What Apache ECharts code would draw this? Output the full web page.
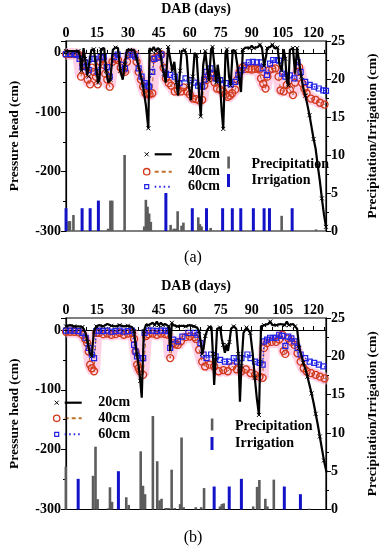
<!DOCTYPE html>
<html><head><meta charset="utf-8">
<script src="https://cdn.jsdelivr.net/npm/echarts@6.0.0/dist/echarts.min.js"></script>
<style>html,body{margin:0;padding:0;background:#fff}#c{width:388px;height:550px}</style>
</head><body><div id="c"></div>
<script>
// ---------- DATA (DAB day, value) ----------
// Panel (a): pressure head (cm)
const a20 = [[0,3],[3,3],[6,3],[6.8,-5],[7.5,-30],[8.5,8],[9.3,-10],[10.3,-38],[11,-40],[12.3,5],[13.5,6],[14.5,-20],[15.5,-50],[16.2,-45],[17,6],[18.5,8],[19.5,-30],[20.5,-50],[21.5,-45],[22.7,5],[24,9],[25.2,8],[26.3,-30],[27.5,-45],[28.5,-20],[29.5,5],[31,5],[33,5],[34.3,-10],[35.8,-32],[37.3,-55],[38.7,-88],[39.9,-127],[40.5,8],[41.5,4],[42.5,10],[43.5,3],[44.5,8],[45.5,5],[46.5,-20],[47.5,-35],[48.3,-50],[49.5,10],[50.5,-10],[51.5,-30],[52.5,-15],[53.5,-50],[54.3,-72],[55.3,-30],[56,3],[57.5,5],[58.5,-5],[59.5,-55],[60.5,-80],[61.5,-40],[62.3,0],[63.3,-5],[64.5,-70],[65.3,-107],[66.5,-20],[67.5,3],[68.5,-30],[69.3,-46],[70.3,5],[71,10],[72,-25],[72.8,-50],[73.5,-20],[74.5,-45],[75.5,-100],[76.2,-128],[77.3,0],[78,6],[79,-40],[79.8,-55],[80.8,5],[82,3],[83,-20],[84,-45],[84.8,-66],[85.7,5],[87,9],[89,8],[90,12],[91,8],[93,10],[94,14],[95,8],[96,-22],[97,-5],[97.5,8],[99,10],[100,14],[101,8],[102.5,9],[103.5,-20],[104.5,-30],[105.5,6],[106.3,-10],[107,-48],[107.8,-55],[108.5,5],[110,8],[111,-35],[112,8],[113,-15],[114,-40],[115,-60],[116,-72],[117,-88],[118,-105],[119,-125],[120,-145],[121,-162],[122,-190],[123,-215],[124,-245],[125,-272],[126,-293]];
const a40 = [[0,-2],[2,-2],[4,-2],[6,-3],[7.3,-40],[8.3,-20],[9.5,-30],[10.5,-45],[11.7,-53],[12.6,-25],[13.5,-32],[14.5,-40],[15.4,-53],[16.5,-15],[17.5,-10],[18.3,-20],[19,-35],[20,-45],[21.2,-57],[22.5,-15],[24,-10],[25.2,-12],[26.5,-25],[27.6,-30],[28.6,-32],[29.6,-15],[30.8,-2],[32,-1],[33,-2],[34.2,-15],[35.2,-32],[36.3,-45],[37.4,-57],[38.5,-68],[39.5,-70],[40.5,-70],[41.8,-68],[42.5,-10],[43.6,-8],[44.7,-6],[46.2,-2],[47.3,-25],[48.4,-43],[49.8,-51],[51,-55],[52.7,-65],[54.2,-63],[55.7,-65],[57,-58],[58.6,-65],[60,-70],[61.5,-77],[63,-78],[64.5,-80],[66,-79],[67,-55],[68,-46],[69,-40],[70,-35],[71,-38],[72,-50],[73.2,-60],[74.7,-62],[76.2,-65],[77.3,-70],[78.4,-74],[79.5,-72],[80.5,-68],[82,-62],[83,-45],[84.2,-32],[85.7,-24],[87,-27],[88.5,-27],[90,-28],[91.5,-27],[93,-26],[93.8,-28],[94.5,-43],[95.6,-52],[96.7,-60],[97.6,-40],[98.5,-29],[100,-27],[101.5,-26],[103,-40],[104,-63],[105.5,-65],[107,-54],[108.5,-62],[110,-71],[111,-50],[112.2,-32],[113,-24],[114.4,-51],[115.5,-60],[116.6,-68],[118.7,-77],[120.9,-79],[123.1,-84],[125.3,-87]];
const a60 = [[0,-2],[2,-2],[4,-2],[5,-3],[6.6,-10],[8,-24],[9.3,-16],[11,-29],[12.5,-10],[13.8,-10],[15.4,-32],[16.8,-7],[18.3,-7],[19.8,-24],[21.2,-40],[23.4,-7],[25,-3],[27.1,-20],[28.6,-26],[30,-4],[32.2,-3],[33.5,-6],[35.2,-26],[36.6,-40],[38.1,-51],[39.5,-55],[40.3,-57],[41.8,-32],[42.8,-10],[44.7,-8],[46.2,-3],[48.4,-35],[50.5,-37],[52.7,-40],[55,-51],[57.9,-43],[60.1,-46],[62.3,-50],[64,-55],[66,-57],[67,-45],[68.1,-32],[70,-26],[71.2,-35],[72.5,-43],[74.7,-46],[77.6,-51],[79.8,-53],[82,-49],[83.5,-37],[85,-29],[86.4,-21],[88.6,-16],[90.5,-15],[92.5,-16],[94.5,-16],[95.3,-26],[97.4,-37],[98.9,-18],[100.4,-12],[102,-12],[103.3,-13],[104.8,-35],[106.3,-40],[108.5,-38],[110.7,-43],[112.2,-15],[113.7,-32],[115.9,-49],[118.1,-54],[120.3,-57],[122.5,-60],[124.7,-63],[126,-64]];
// Panel (a): precipitation / irrigation (cm)
const aPrecip = [[1.3,1.3],[2,1.3],[3.7,2.1],[20.5,0.3],[21.6,4],[22.5,4],[28.5,10],[38,0.6],[38.8,4.1],[39.6,3.2],[40.4,2.3],[41.2,1.2],[50.8,0.8],[52.3,0.3],[53.3,0.3],[54.2,2.6],[56.1,0.7],[57,1.1],[64.2,1.8],[65,0.9],[65.8,0.6],[70.2,0.4],[104.6,2],[121.3,0.2]];
const aIrrig = [[0,3],[7.8,3],[11.7,3],[15.7,4],[48.4,5],[61.2,3],[68.1,3],[75.9,3],[80.6,3],[84.7,3],[90.8,3],[96,3],[98.6,3],[109.6,3]];

// Panel (b): pressure head (cm)
const b20 = [[0,6],[2,8],[4,6],[6,6],[8,5],[9.5,-5],[10.5,-20],[11.5,-38],[12.5,-44],[13.5,-2],[14.7,6],[16,8],[18,6],[20,10],[22,7],[24,6],[26,8],[28,6],[30,7],[32,5],[33,-2],[33.7,-25],[34.4,-41],[35.2,-60],[36,-85],[36.7,-113],[37.7,-2],[38.8,9],[40,8],[42,12],[43,8],[44,14],[45,8],[46,12],[47,8],[48,10],[49.8,6],[50.5,-35],[51.3,12],[52,8],[54,6],[56,7],[58,6],[60,8],[62,6],[63.5,4],[64.5,-2],[65.3,-20],[66,-40],[66.7,-30],[67.5,-10],[68.5,0],[69.5,5],[70.5,5],[71.2,-40],[71.8,-92],[72.5,-50],[73.2,2],[74.7,4],[75.5,-15],[76.2,-25],[77,-38],[77.8,-25],[78.5,-35],[79.2,-20],[80,2],[81.3,6],[82.5,2],[83.5,-40],[84.3,-120],[85,-60],[86,-5],[87.5,4],[88.3,6],[89.3,-5],[90.5,-40],[91.5,-80],[92.5,-115],[93.5,-142],[94.5,6],[96,8],[98,10],[99,14],[100,8],[102,8],[104,10],[106,8],[107,14],[108,8],[110,10],[111,6],[112,2],[113,-30],[114,-42],[115,-55],[116,-65],[117,-78],[118,-92],[119,-106],[120,-122],[121,-140],[122,-158],[123,-178],[124,-198],[125,-218],[126.3,-238]];
const b40 = [[0,-3],[2,-3],[4,-3],[6,-4],[8,-8],[9.3,-15],[10.3,-22],[11,-36],[11.7,-58],[12.5,-64],[13.6,-69],[14.7,-5],[16,-5],[18,-7],[20,-6],[22,-8],[24,-7],[26,-5],[28,-8],[30,-6],[32,-5],[33,-15],[33.7,-36],[34.5,-58],[35.2,-64],[35.9,-69],[37.4,-75],[38.8,-10],[40,-7],[42,-6],[44,-8],[46,-6],[48,-7],[49.5,-8],[50.5,-47],[52,-22],[53,-24],[54.2,-25],[55.7,-19],[57.9,-12],[60,-11],[62.3,-12],[63,-15],[64.5,-33],[66,-53],[67.4,-61],[69.6,-58],[71.8,-61],[74,-69],[76.2,-67],[78.4,-69],[80.6,-61],[82.8,-66],[85,-69],[87.2,-66],[89.4,-72],[91.6,-75],[93.8,-78],[95.3,-80],[96,-30],[97.4,-22],[99.6,-20],[101.8,-20],[103.3,-16],[104.8,-8],[105.5,-35],[106.3,-40],[107.7,-14],[109.2,-20],[110.7,-25],[112.2,-39],[113.7,-53],[115.2,-64],[116.6,-69],[118.7,-72],[121,-75],[123.1,-78],[125.3,-81],[126.5,-81]];
const b60 = [[0,-1],[2,-1],[4,-1],[6,-2],[8,-5],[9.5,-13],[11,-30],[12.5,-41],[13.6,-47],[14.7,-2],[16,-1],[18,-2],[20,-1],[22,-3],[24,-2],[26,-1],[28,-3],[30,-2],[32,-1],[33,-25],[33.7,-36],[34.4,-44],[36,-47],[37.4,-47],[38.1,-5],[40,-1],[42,-1],[44,-2],[46,-1],[48,-1],[49.5,-2],[50.5,-30],[52,-16],[54.2,-19],[56.4,-11],[59.3,-5],[62.3,-5],[63.7,-8],[65.2,-22],[66.7,-41],[68.1,-47],[70.3,-41],[72.5,-44],[74.7,-50],[77,-53],[79.1,-53],[81.3,-47],[82.8,-53],[85,-47],[87.9,-41],[89.4,-47],[91.6,-53],[93.8,-55],[95.3,-58],[96,-19],[97.4,-16],[98.9,-13],[100.5,-13],[101.8,-13],[103.3,-8],[104.8,-10],[106.3,-27],[107.7,-11],[109.2,-14],[110.7,-19],[112.2,-30],[113.7,-41],[115.9,-47],[118.1,-53],[120.3,-55],[122.5,-58],[124.7,-61],[126.5,-63]];
// Panel (b): precipitation / irrigation (cm)
const bPrecip = [[0,5.6],[13.2,4.4],[14.4,8.2],[15.4,1.35],[20.5,0.15],[21.4,2.9],[22.4,1],[29.3,1.6],[30.5,0.6],[36.3,7.6],[37.4,3.1],[38.4,2],[42.2,12.2],[44.3,6.3],[45.4,1.2],[46.4,1.4],[48.4,0.2],[49.1,0.2],[49.8,0.2],[51.3,5.2],[52.8,0.2],[55.4,0.7],[56.1,9.4],[57.1,0.3],[63,0.3],[65.6,0.3],[67,2.8],[74.7,0.4],[75.6,0.7],[76.5,0.8],[90.8,0.4],[92.7,2.95],[93.8,3.85],[96.7,1.4],[97.7,0.4],[100.8,3.9],[118,0.1]];
const bIrrig = [[5.9,4],[25.4,5],[71.8,3],[79.1,3],[85,4],[105.8,3],[113.6,2]];

const xTicks = [0,15,30,45,60,75,90,105,120];
const depthNames = ['20cm','40cm','60cm'];
const barNames = ['Precipitation','Irrigation'];
const captions = ['(a)','(b)'];

// ---------- CHART ----------
const FONT = '"Liberation Serif","Times New Roman",serif';
const txt = {color:'#000', fontFamily:FONT, fontWeight:'bold', fontSize:13.5};
const tickTxt = {color:'#000', fontFamily:FONT, fontWeight:'bold', fontSize:14};
const tops = [41, 318];
const H = [190, 191.5];
const grids = tops.map((t,i)=>({left:50, top:t, width:287, height:H[i], show:true, borderColor:'#000', borderWidth:1.2, backgroundColor:'transparent'}));
const xAxes = [], yAxes = [];
[0,1].forEach(i=>{
  xAxes.push({gridIndex:i, type:'value', position:'top', min:0, max:126, interval:15,
    axisLine:{show:true, lineStyle:{color:'#000', width:1.2}},
    axisTick:{show:true, inside:false, length:4, lineStyle:{color:'#000', width:1}},
    minorTick:{show:true, splitNumber:3, length:3, lineStyle:{color:'#000', width:1}},
    splitLine:{show:false},
    axisLabel:Object.assign({margin:1, formatter:v=> xTicks.indexOf(v)>=0 ? String(v) : ''}, tickTxt),
    name:'DAB (days)', nameLocation:'middle', nameGap:25, nameTextStyle:Object.assign({}, txt, {fontSize:14})});
  yAxes.push({gridIndex:i, type:'value', position:'left', min:-300, max:20, interval:100,
    axisLine:{show:true, lineStyle:{color:'#000', width:1.2}},
    axisTick:{show:true, inside:false, length:5, lineStyle:{color:'#000'}},
    minorTick:{show:true, splitNumber:2, length:3, lineStyle:{color:'#000'}},
    splitLine:{show:false},
    axisLabel:Object.assign({margin:5, formatter:v=> v%100===0 ? String(v) : ''}, tickTxt),
    name:'Pressure head (cm)', nameLocation:'middle', nameGap:44, nameRotate:90, nameTextStyle:txt});
  yAxes.push({gridIndex:i, type:'value', position:'right', min:0, max:25, interval:5,
    axisLine:{show:true, lineStyle:{color:'#000', width:1.2}},
    axisTick:{show:true, inside:false, length:5, lineStyle:{color:'#000'}},
    minorTick:{show:true, splitNumber:2, length:3, lineStyle:{color:'#000'}},
    splitLine:{show:false},
    axisLabel:Object.assign({margin:5}, tickTxt),
    name:'Precipitation/Irrigation (cm)', nameLocation:'middle', nameGap:40, nameRotate:90, nameTextStyle:txt});
});

const XSYM = 'path://M0 0L10 10M10 0L0 10';
const series = [];
const sets = [[a20,a40,a60,aPrecip,aIrrig],[b20,b40,b60,bPrecip,bIrrig]];
sets.forEach((s,i)=>{
  const [d20,d40,d60,pr,ir] = s;
  series.push({type:'bar', name:barNames[0], xAxisIndex:i, yAxisIndex:2*i+1, data:pr, barWidth:2.6, barGap:'-100%', itemStyle:{color:'#5c5c5c'}, z:2});
  series.push({type:'bar', name:barNames[1], xAxisIndex:i, yAxisIndex:2*i+1, data:ir, barWidth:3, barGap:'-100%', itemStyle:{color:'#1212c8'}, z:2});
  series.push({type:'line', name:'band', xAxisIndex:i, yAxisIndex:2*i, data:d40, showSymbol:false, lineStyle:{color:'rgba(255,170,210,0.55)', width:12}, z:2, silent:true});
  series.push({type:'line', name:depthNames[1], xAxisIndex:i, yAxisIndex:2*i, data:d40, showAllSymbol:true, symbol:'circle', symbolSize:7,
    itemStyle:{color:'rgba(0,0,0,0)', borderColor:'#d2381a', borderWidth:1.3}, lineStyle:{color:'#b8662a', width:1, type:[4,3]}, z:3});
  series.push({type:'line', name:depthNames[2], xAxisIndex:i, yAxisIndex:2*i, data:d60, showAllSymbol:true, symbol:'rect', symbolSize:5,
    itemStyle:{color:'rgba(0,0,0,0)', borderColor:'#2222e6', borderWidth:1.2}, lineStyle:{color:'#2222e6', width:1.3, type:[1.5,2]}, z:4});
  series.push({type:'line', name:depthNames[0], xAxisIndex:i, yAxisIndex:2*i, data:d20, showAllSymbol:true, symbol:XSYM,
    symbolSize:(v,p)=> (p.dataIndex % 2 === 0 ? 4 : 0),
    itemStyle:{color:'rgba(0,0,0,0)', borderColor:'#000', borderWidth:1}, lineStyle:{color:'#000', width:2.2}, z:5,
    markLine:{silent:true, symbol:['none','none'], label:{show:false}, lineStyle:{color:'#000', type:[1.5,2.5], width:1}, data:[{yAxis:0}]}});
});

// legend graphics
function legend(x0, y0, y1, y2, bx, by, byi, tx, btx){
  const g = [];
  const T = (t,x,y,fs)=>({type:'text', style:{text:t, x:x, y:y, font:'bold '+fs+'px '+FONT, fill:'#000', textAlign:'left', textVerticalAlign:'middle', verticalAlign:'middle'}});
  g.push({type:'line', shape:{x1:x0-2, y1:y0-2, x2:x0+2, y2:y0+2}, style:{stroke:'#000', lineWidth:1}});
  g.push({type:'line', shape:{x1:x0-2, y1:y0+2, x2:x0+2, y2:y0-2}, style:{stroke:'#000', lineWidth:1}});
  g.push({type:'line', shape:{x1:x0+8, y1:y0, x2:x0+25, y2:y0}, style:{stroke:'#000', lineWidth:2.2}});
  g.push(T(depthNames[0], tx, y0, 14));
  g.push({type:'circle', shape:{cx:x0, cy:y1, r:3.2}, style:{fill:'none', stroke:'#d2381a', lineWidth:1.3}});
  g.push({type:'line', shape:{x1:x0+8, y1:y1, x2:x0+25, y2:y1}, style:{stroke:'#c0702a', lineWidth:2, lineDash:[4,3]}});
  g.push(T(depthNames[1], tx, y1, 14));
  g.push({type:'rect', shape:{x:x0-2, y:y2-2, width:4, height:4}, style:{fill:'none', stroke:'#2222e6', lineWidth:1.2}});
  g.push({type:'line', shape:{x1:x0+8, y1:y2, x2:x0+25, y2:y2}, style:{stroke:'#2222e6', lineWidth:2, lineDash:[1.5,3]}});
  g.push(T(depthNames[2], tx, y2, 14));
  g.push({type:'rect', shape:{x:bx-1.2, y:by-6, width:2.6, height:12}, style:{fill:'#5c5c5c'}});
  g.push(T(barNames[0], btx, by+2, 14));
  g.push({type:'rect', shape:{x:bx-1.5, y:byi-6.5, width:3, height:13}, style:{fill:'#1212c8'}});
  g.push(T(barNames[1], btx, byi, 14));
  return g;
}
const graphics = [].concat(
  legend(146.7, 154.3, 171.7, 186.7, 228.5, 162.5, 180.5, 188, 251.5),
  legend(56.7, 402.7, 418.3, 434.3, 212, 424.5, 443.5, 98.3, 235),
  [{type:'text', style:{text:captions[0], x:193, y:257.5, font:'16px '+FONT, fill:'#000', textAlign:'center', textVerticalAlign:'middle', verticalAlign:'middle'}},
   {type:'text', style:{text:captions[1], x:193, y:537.5, font:'16px '+FONT, fill:'#000', textAlign:'center', textVerticalAlign:'middle', verticalAlign:'middle'}}]
);

const chart = echarts.init(document.getElementById('c'), null, {renderer:'canvas'});
chart.setOption({animation:false, backgroundColor:'#fff', grid:grids, xAxis:xAxes, yAxis:yAxes, series:series, graphic:graphics});
</script></body></html>
